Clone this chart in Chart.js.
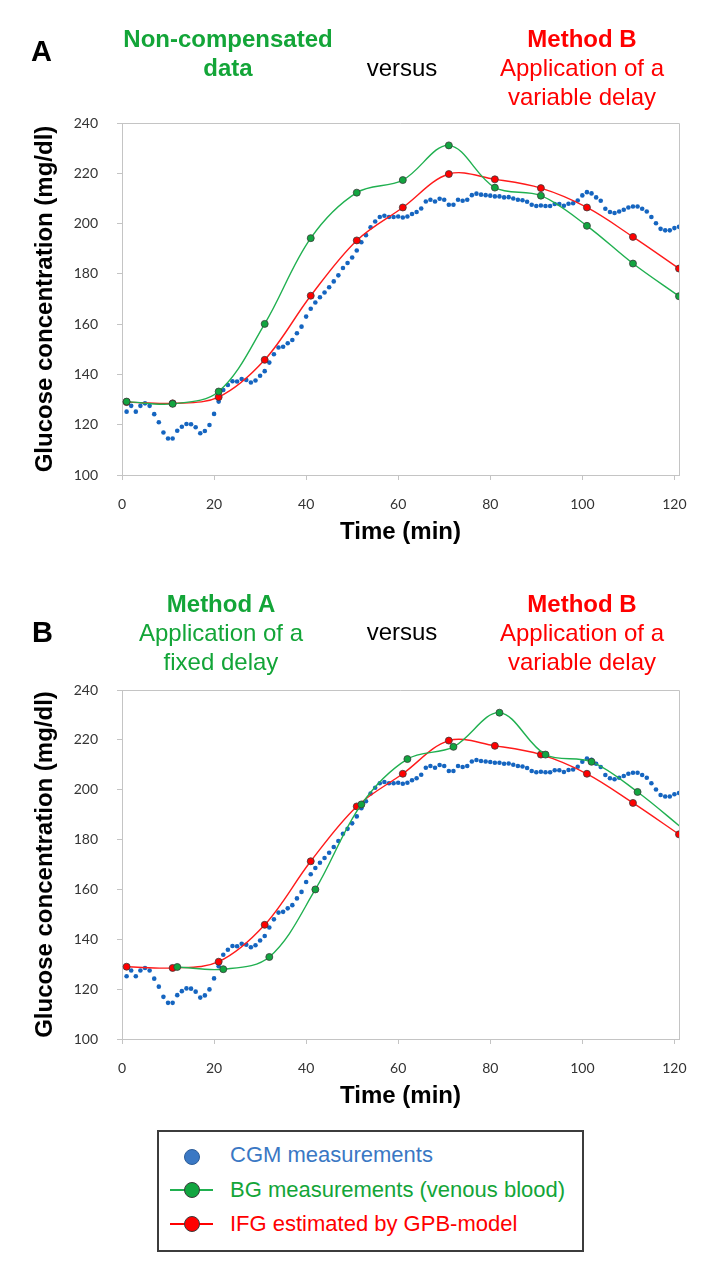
<!DOCTYPE html>
<html>
<head>
<meta charset="utf-8">
<script src="https://cdn.jsdelivr.net/npm/chart.js@4.4.1/dist/chart.umd.min.js"></script>
<style>
  body { margin: 0; background: #fff; }
  #page { position: relative; width: 724px; height: 1279px; font-family: "Liberation Sans", Arial, sans-serif; overflow: hidden; }
  canvas { position: absolute; left: 0; }
  .t { position: absolute; font-size: 24px; line-height: 29px; text-align: center; white-space: nowrap; transform: translateX(-50%); }
  .g { color: #13a538; }
  .r { color: #ff0000; }
  .b { font-weight: bold; }
  .panel { position: absolute; font-size: 29px; line-height: 29px; font-weight: bold; color: #000; }
  #legend { position: absolute; top: 1130px; height: 122px; border: 2px solid #3c3c3c; box-sizing: border-box; }
  .lt { position: absolute; left: 230px; font-size: 22px; line-height: 22px; white-space: nowrap; }
  .dot { position: absolute; width: 16px; height: 16px; border-radius: 50%; box-sizing: border-box; border: 1px solid #3a3a3a; }
  .ln { position: absolute; left: 170px; width: 43px; height: 2px; }
</style>
</head>
<body>
<div id="page">
  <canvas id="chartA" width="724" height="560" style="top:0"></canvas>
  <canvas id="chartB" width="724" height="557" style="top:567px"></canvas>

  <div class="panel" style="left:31px; top:37px">A</div>
  <div class="t g b" style="left:228px; top:24px">Non-compensated<br>data</div>
  <div class="t" style="left:402px; top:53px">versus</div>
  <div class="t r" style="left:582px; top:24px"><span class="b">Method B</span><br>Application of a<br>variable delay</div>

  <div class="panel" style="left:32px; top:618px">B</div>
  <div class="t g" style="left:221px; top:589px"><span class="b">Method A</span><br>Application of a<br>fixed delay</div>
  <div class="t" style="left:402px; top:617px">versus</div>
  <div class="t r" style="left:582px; top:589px"><span class="b">Method B</span><br>Application of a<br>variable delay</div>

  <div id="legend" style="left:157px; width:427px"></div>
  <div class="dot" style="left:184px; top:1149px; background:#3a78c4; border-color:#2c5d99"></div>
  <div class="lt" style="top:1144px; color:#3a78c4">CGM measurements</div>
  <div class="ln" style="top:1189px; background:#20b050"></div>
  <div class="dot" style="left:184px; top:1182px; background:#12a540"></div>
  <div class="lt" style="top:1179px; color:#13a538">BG measurements (venous blood)</div>
  <div class="ln" style="top:1223px; background:#ff0000"></div>
  <div class="dot" style="left:184px; top:1216px; background:#ff0000"></div>
  <div class="lt" style="top:1213px; color:#ff0000">IFG estimated by GPB-model</div>
</div>

<script>
// CGM sensor, one reading per minute
const cgmTime = [
  1, 2, 3, 4, 5, 6, 7, 8, 9, 10, 11, 12, 13, 14, 15, 16, 17, 18, 19, 20,
  21, 22, 23, 24, 25, 26, 27, 28, 29, 30, 31, 32, 33, 34, 35, 36, 37, 38, 39, 40,
  41, 42, 43, 44, 45, 46, 47, 48, 49, 50, 51, 52, 53, 54, 55, 56, 57, 58, 59, 60,
  61, 62, 63, 64, 65, 66, 67, 68, 69, 70, 71, 72, 73, 74, 75, 76, 77, 78, 79, 80,
  81, 82, 83, 84, 85, 86, 87, 88, 89, 90, 91, 92, 93, 94, 95, 96, 97, 98, 99, 100,
  101, 102, 103, 104, 105, 106, 107, 108, 109, 110, 111, 112, 113, 114, 115, 116, 117, 118, 119, 120, 121
];
const cgmValues = [
  125.2, 127.5, 125.2, 127.5, 128.5, 127.5, 124.2, 121.0, 116.9, 114.5,
  114.5, 117.6, 119.2, 120.3, 120.2, 119.0, 116.6, 117.5, 119.9, 124.3,
  129.2, 133.8, 135.8, 137.3, 137.2, 138.2, 137.8, 136.8, 137.6, 139.5,
  141.3, 144.7, 148.0, 150.7, 151.0, 152.4, 153.7, 156.4, 159.0, 163.0,
  166.1, 168.6, 170.7, 172.6, 174.7, 177.0, 179.4, 182.3, 184.3, 186.5,
  189.3, 192.6, 195.4, 198.5, 200.8, 202.6, 203.1, 202.6, 202.6, 202.8,
  202.4, 202.8, 203.8, 204.6, 206.0, 208.8, 209.5, 208.8, 209.9, 209.5,
  207.5, 207.5, 209.5, 209.1, 209.5, 211.3, 211.9, 211.5, 211.3, 211.1,
  210.8, 210.8, 210.4, 210.5, 210.0, 209.5, 209.3, 208.7, 207.5, 207.0,
  207.2, 207.0, 207.0, 207.8, 207.8, 207.1, 207.9, 208.1, 209.2, 211.2,
  212.5, 212.0, 210.4, 209.1, 205.9, 204.6, 204.2, 204.8, 205.5, 206.4,
  206.8, 206.8, 205.9, 204.8, 202.6, 200.1, 197.9, 197.3, 197.3, 198.2, 198.7
];

// venous blood glucose, non-compensated (panel A)
const bgTimeA = [1, 11, 21, 31, 41, 51, 61, 71, 81, 91, 101, 111, 121];
const bgValuesA = [129.2, 128.3, 133.2, 160.1, 194.2, 212.3, 217.3, 231.1, 214.3, 211.1, 199.1, 184.1, 171.1];

// venous blood glucose, fixed delay (panel B)
const bgTimeB = [12, 22, 32, 42, 52, 62, 72, 82, 92, 102, 112, 122];
const bgValuesB = [128.9, 128.0, 132.9, 160.0, 194.1, 212.3, 217.2, 230.9, 214.1, 211.2, 199.1, 184.1];

// IFG estimated by GPB model (both panels)
const ifgTime = [1, 11, 21, 31, 41, 51, 61, 71, 81, 91, 101, 111, 121];
const ifgValues = [129.0, 128.5, 131.0, 145.8, 171.3, 193.3, 206.4, 219.7, 217.6, 214.1, 206.4, 194.7, 182.1];

const xTicks = [0, 20, 40, 60, 80, 100, 120];
const yTicks = [100, 120, 140, 160, 180, 200, 220, 240];

const toPoints = (xs, ys) => xs.map((x, i) => ({ x: x, y: ys[i] }));

const frame = {
  id: 'frame',
  afterDraw(chart) {
    const { ctx, chartArea: a } = chart;
    ctx.save();
    ctx.strokeStyle = '#c4c4c4';
    ctx.lineWidth = 1;
    ctx.beginPath();
    ctx.moveTo(a.left, Math.round(a.top) + 0.5);
    ctx.lineTo(Math.round(a.right) + 0.5, Math.round(a.top) + 0.5);
    ctx.lineTo(Math.round(a.right) + 0.5, a.bottom);
    ctx.stroke();
    ctx.restore();
  }
};

function makeChart(id, bgTime, bgValues) {
  const ctx = document.getElementById(id).getContext('2d');
  const tickFont = { family: 'Lato, "Open Sans", sans-serif', size: 14 };
  const titleFont = { family: '"Liberation Sans", Arial, sans-serif', size: 24, weight: 'bold' };
  return new Chart(ctx, {
    type: 'scatter',
    data: {
      datasets: [{
        label: 'BG measurements (venous blood)',
        data: toPoints(bgTime, bgValues),
        showLine: true,
        tension: 0.35,
        borderColor: '#20b050',
        borderWidth: 1.4,
        pointBackgroundColor: '#12a540',
        pointBorderColor: '#3a3a3a',
        pointBorderWidth: 0.8,
        pointRadius: c => (c.raw && c.raw.x > 121 ? 0 : 3.5),
        order: 0
      }, {
        label: 'IFG estimated by GPB-model',
        data: toPoints(ifgTime, ifgValues),
        showLine: true,
        tension: 0.35,
        borderColor: '#ff1a1a',
        borderWidth: 1.4,
        pointBackgroundColor: '#ff0000',
        pointBorderColor: '#3a3a3a',
        pointBorderWidth: 0.8,
        pointRadius: 3.5,
        order: 1
      }, {
        label: 'CGM measurements',
        data: toPoints(cgmTime, cgmValues),
        showLine: false,
        pointBackgroundColor: '#1565c0',
        pointBorderColor: '#1565c0',
        pointBorderWidth: 0,
        pointRadius: 2.3,
        order: 2
      }]
    },
    options: {
      responsive: false,
      animation: false,
      devicePixelRatio: 1,
      layout: { padding: { top: 123, right: 45, left: 0, bottom: 0 } },
      plugins: { legend: { display: false }, tooltip: { enabled: false } },
      scales: {
        x: {
          type: 'linear',
          min: 0,
          max: 121,
          afterBuildTicks: s => { s.ticks = xTicks.map(v => ({ value: v })); },
          afterFit: s => { s.height = 85; },
          grid: { drawOnChartArea: false, drawTicks: true, tickLength: 5, color: '#c4c4c4' },
          border: { color: '#c4c4c4', width: 1 },
          ticks: { font: tickFont, color: '#333', padding: 16, maxRotation: 0 },
          title: { display: true, text: 'Time (min)', font: titleFont, color: '#000', padding: { top: 0, bottom: 13 } }
        },
        y: {
          min: 100,
          max: 240,
          afterBuildTicks: s => { s.ticks = yTicks.map(v => ({ value: v })); },
          afterFit: s => { s.width = 122; },
          grid: { drawOnChartArea: false, drawTicks: true, tickLength: 5, color: '#c4c4c4' },
          border: { color: '#c4c4c4', width: 1 },
          ticks: { font: tickFont, color: '#333', padding: 19 },
          title: { display: true, text: 'Glucose concentration (mg/dl)', font: titleFont, color: '#000', padding: { top: 31, bottom: 0 } }
        }
      }
    },
    plugins: [frame]
  });
}

makeChart('chartA', bgTimeA, bgValuesA);
makeChart('chartB', bgTimeB, bgValuesB);
</script>
</body>
</html>
